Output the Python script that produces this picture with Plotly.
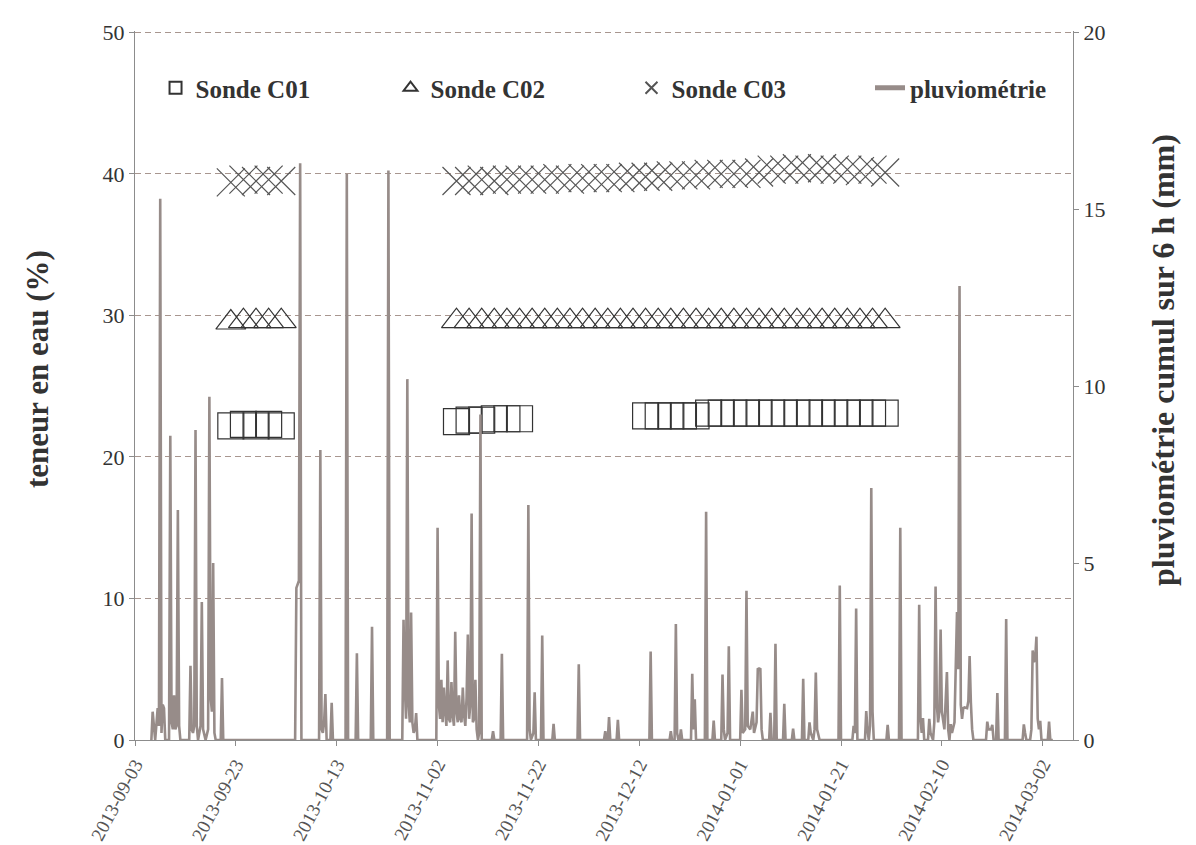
import pandas as pd
import plotly.graph_objects as go
from plotly.subplots import make_subplots

# ---------------- data ----------------
start = pd.Timestamp("2013-09-03")

# probe measurement times (days after 2013-09-03)
c01_day = [19.0, 21.5, 24.0, 26.5, 29.0,
           63.75, 66.25, 68.75, 71.25, 73.75, 76.25,
           101.25, 103.75, 106.25, 108.75, 111.25, 113.75, 116.25, 118.75, 121.25, 123.75,
           126.25, 128.75, 131.25, 133.75, 136.25, 138.75, 141.25, 143.75, 146.25, 148.75]
c01_val = [22.2, 22.3, 22.2, 22.3, 22.2,
           22.5, 22.6, 22.6, 22.7, 22.7, 22.7,
           22.9, 22.9, 22.9, 22.9, 22.9, 23.1, 23.1, 23.1, 23.1, 23.1,
           23.1, 23.1, 23.1, 23.1, 23.1, 23.1, 23.1, 23.1, 23.1, 23.1]

c02_day = [19.0, 21.5, 24.0, 26.5, 29.0,
           63.75, 66.25, 68.75, 71.25, 73.75, 76.25, 78.75, 81.25, 83.75, 86.25,
           88.75, 91.25, 93.75, 96.25, 98.75, 101.25, 103.75, 106.25, 108.75, 111.25,
           113.75, 116.25, 118.75, 121.25, 123.75, 126.25, 128.75, 131.25, 133.75, 136.25,
           138.75, 141.25, 143.75, 146.25, 148.75]
c02_val = [29.5, 29.6, 29.6, 29.6, 29.6,
           29.6, 29.6, 29.6, 29.6, 29.6, 29.6, 29.6, 29.6, 29.6, 29.6,
           29.6, 29.6, 29.6, 29.6, 29.6, 29.6, 29.6, 29.6, 29.6, 29.6,
           29.6, 29.6, 29.6, 29.6, 29.6, 29.6, 29.6, 29.6, 29.6, 29.6,
           29.6, 29.6, 29.6, 29.6, 29.6]

c03_day = c02_day
c03_val = [39.4, 39.6, 39.5, 39.6, 39.5,
           39.5, 39.5, 39.6, 39.5, 39.6, 39.6, 39.6, 39.6, 39.7, 39.6,
           39.7, 39.7, 39.7, 39.7, 39.8, 39.8, 39.8, 39.9, 39.9, 39.9,
           40.0, 40.0, 40.0, 40.0, 40.1, 40.3, 40.3, 40.4, 40.3, 40.4,
           40.3, 40.3, 40.2, 40.3, 40.1]

# 6-hourly rainfall (days after 2013-09-03, mm)
rain_day = [
    3.25, 3.5, 3.75, 4.0, 4.5, 4.75, 5.0, 5.25, 5.5, 5.75, 6.0,
    6.75, 7.0, 7.25, 7.5, 7.75, 8.0, 8.25, 8.5, 8.75, 9.0,
    10.75, 11.0, 11.25, 11.5, 11.75, 12.0, 12.25, 12.5, 13.0, 13.25, 13.5, 14.0, 14.5, 14.75, 15.0, 15.25, 15.5, 15.75, 16.0,
    17.0, 17.25, 17.5,
    31.75, 32.0, 32.5, 32.75, 33.0,
    36.5, 36.75, 37.0, 37.25, 37.5, 37.75, 38.0, 38.75, 39.0, 39.25,
    41.75, 42.0, 42.25,
    43.75, 44.0, 44.25,
    46.75, 47.0, 47.25,
    50.0, 50.25, 50.5,
    53.0, 53.25, 53.5, 53.75, 54.0, 54.25, 54.5, 54.75, 55.0, 55.25, 55.5, 55.75, 56.0,
    59.75, 60.0, 60.25, 60.5, 60.75, 61.0, 61.25, 61.5, 61.75, 62.0, 62.25, 62.5, 62.75, 63.0,
    63.25, 63.5, 63.75, 64.0, 64.25, 64.5, 64.75, 65.0, 65.25, 65.5, 65.75, 66.0, 66.25, 66.5,
    66.75, 67.0, 67.25, 67.5, 67.75, 68.0, 68.25, 68.5, 68.75,
    70.75, 71.0, 71.25,
    72.5, 72.75, 73.0,
    77.75, 78.0, 78.25, 78.5, 79.0, 79.25, 79.5, 80.5, 80.75, 81.0,
    82.75, 83.0, 83.25,
    87.75, 88.0, 88.25,
    93.0, 93.25, 93.5, 93.75, 94.0, 94.25, 95.5, 95.75, 96.0,
    102.0, 102.25, 102.5,
    106.0, 106.25, 106.5, 107.0, 107.25, 107.5, 107.75, 108.0, 108.25, 108.5,
    110.25, 110.5, 110.75, 111.0, 111.25,
    113.0, 113.25, 113.5,
    114.5, 114.75, 115.0,
    116.25, 116.5, 116.75, 117.0, 117.5, 117.75, 118.0,
    120.0, 120.25, 120.5, 121.0, 121.25, 121.5, 122.0, 122.5, 122.75, 123.25, 123.5, 123.75, 124.0, 124.25, 124.5,
    125.75, 126.0, 126.25, 126.75, 127.0, 127.25,
    128.5, 128.75, 129.0,
    130.25, 130.5, 130.75,
    132.25, 132.5, 132.75,
    133.5, 133.75, 134.0, 134.5, 134.75, 135.0, 135.25, 135.5, 135.75,
    139.5, 139.75, 140.0,
    142.25, 142.5, 142.75, 143.0, 143.25,
    144.75, 145.0, 145.25, 145.5, 145.75, 146.0, 146.25, 146.5,
    149.0, 149.25, 149.5,
    151.5, 151.75, 152.0,
    155.25, 155.5, 155.75, 156.0, 156.25, 156.5,
    157.25, 157.5, 157.75, 158.25, 158.5, 158.75, 159.0, 159.25, 159.5, 159.75, 160.0, 160.5,
    161.0, 161.25, 161.5, 161.75, 162.0, 162.5, 163.0, 163.25, 163.5, 163.75, 164.0, 164.25,
    164.5, 164.75, 165.0, 165.25, 165.5, 165.75, 166.0, 166.25,
    168.75, 169.0, 169.25, 169.5, 169.75, 170.0, 170.25, 170.75, 171.0, 171.25,
    172.5, 172.75, 173.0,
    176.0, 176.25, 176.5, 176.75,
    177.5, 177.75, 178.0, 178.25, 178.5, 178.75, 179.0, 179.25, 179.5, 179.75,
    181.0, 181.25, 181.5, 182.0,
]
rain_mm = [
    0, 0.8, 0.4, 0, 0.9, 0.4, 15.3, 0.2, 1.0, 0.9, 0,
    0, 8.6, 0.5, 0.3, 1.26, 0.3, 0.4, 6.5, 0.4, 0,
    0, 2.1, 0.3, 0.2, 0.4, 8.76, 0.4, 0, 0.4, 3.9, 0.3, 0, 0.3, 9.7, 1.2, 0.8, 5.0, 0.2, 0,
    0, 1.75, 0,
    0, 4.3, 4.5, 16.3, 0,
    0, 8.2, 0.3, 0.2, 0.5, 1.3, 0, 0, 1.05, 0,
    0, 16.0, 0,
    0, 2.45, 0,
    0, 3.2, 0,
    0, 16.1, 0,
    0, 3.4, 1.5, 0.6, 10.2, 1.0, 0.5, 3.6, 0.5, 0.2, 0.3, 0.76, 0,
    0, 6.0, 1.0, 0.6, 1.7, 0.5, 1.48, 0.8, 0.4, 2.25, 0.6, 0.5, 1.64, 0.7,
    0.4, 3.06, 0.8, 0.5, 1.26, 0.6, 0.5, 1.48, 0.7, 0.4, 1.2, 2.98, 0.6, 1.0,
    6.4, 0.5, 0.6, 1.7, 0.3, 0, 0.2, 9.2, 0,
    0, 0.25, 0,
    0, 2.44, 0,
    0, 6.64, 0.3, 0, 0.2, 1.35, 0, 0, 2.95, 0,
    0, 0.46, 0,
    0, 2.14, 0,
    0, 0.25, 0, 0, 0.65, 0, 0, 0.57, 0,
    0, 2.5, 0,
    0, 0.25, 0, 0, 3.28, 0.2, 0, 0, 0.3, 0,
    0, 1.87, 0.3, 1.15, 0,
    0, 6.45, 0,
    0, 0.55, 0,
    0, 1.85, 0.3, 0, 0.2, 2.65, 0,
    0, 1.42, 0.2, 0.3, 4.22, 0.4, 0.3, 0.8, 0.2, 0.5, 2.03, 2.0, 2.03, 0.3, 0,
    0, 0.77, 0, 0, 2.72, 0,
    0, 1.02, 0,
    0, 0.32, 0,
    0, 1.73, 0,
    0, 0.5, 0.2, 0, 0.3, 1.91, 0.3, 0.1, 0,
    0, 4.37, 0,
    0, 0.4, 0.2, 3.72, 0,
    0, 0.82, 0.3, 0, 0.4, 7.12, 0.8, 0,
    0, 0.43, 0,
    0, 6.0, 0,
    0, 3.82, 0.6, 0.2, 0.62, 0,
    0, 0.6, 0.2, 0, 0.5, 4.34, 1.0, 0.5, 0.8, 3.12, 0.8, 0.3,
    1.92, 0.3, 0, 0.45, 0.2, 0.5, 3.62, 2.0, 12.83, 1.0, 0.6, 0.9,
    0.92, 0.9, 0.9, 1.1, 2.37, 1.05, 0.3, 0,
    0, 0.52, 0.3, 0.3, 0.3, 0.43, 0, 0, 1.33, 0,
    0, 3.42, 0,
    0, 0.44, 0.2, 0,
    0, 0.3, 2.53, 2.2, 2.3, 2.92, 0.6, 0.3, 0.54, 0,
    0, 0.52, 0, 0,
]

x_range_days = 186
tick_step_days = 20

left_title = "teneur en eau (%)"
right_title = "pluviométrie cumul sur 6 h (mm)"


def to_time(days):
    return [start + pd.Timedelta(days=d) for d in days]


SERIF = "Liberation Serif"
GRID = "#a8968f"
AXIS = "#8c8c8c"
RAIN = "#978c89"

fig = make_subplots(specs=[[{"secondary_y": True}]])

fig.add_trace(go.Scatter(
    x=to_time(c01_day), y=c01_val, name="Sonde C01", mode="markers", legend="legend",
    marker=dict(symbol="square-open", size=26, color="#333333", line=dict(width=1.2)),
), secondary_y=False)
fig.add_trace(go.Scatter(
    x=to_time(c02_day), y=c02_val, name="Sonde C02", mode="markers", legend="legend2",
    marker=dict(symbol="triangle-up-open", size=26, color="#333333", line=dict(width=1.2)),
), secondary_y=False)
fig.add_trace(go.Scatter(
    x=to_time(c03_day), y=c03_val, name="Sonde C03", mode="markers", legend="legend3",
    marker=dict(symbol="x-thin-open", size=28, color="#555555", line=dict(width=1.2)),
), secondary_y=False)
fig.add_trace(go.Scatter(
    x=to_time(rain_day), y=rain_mm, name="pluviométrie", mode="lines", legend="legend4",
    line=dict(color=RAIN, width=2.6),
), secondary_y=True)


def legend_at(x):
    return dict(
        orientation="h", x=x, y=0.9196, xanchor="left", yanchor="middle",
        itemsizing="constant",
        font=dict(family=SERIF, size=25, color="#333333", weight="bold"),
        bgcolor="rgba(0,0,0,0)", borderwidth=0,
    )


title_font = dict(family=SERIF, size=31, color="#333333", weight="bold")

fig.update_layout(
    template="none",
    width=1188, height=837,
    margin=dict(l=127, r=123, t=23, b=105),
    paper_bgcolor="white", plot_bgcolor="white",
    font=dict(family=SERIF, color="#3a3a3a"),
    showlegend=True,
    legend=legend_at(0.0219),
    legend2=legend_at(0.2724),
    legend3=legend_at(0.5293),
    legend4=legend_at(0.7836),
    annotations=[
        dict(text=left_title, textangle=-90, xref="paper", yref="paper",
             x=-0.1034, y=0.5233, xanchor="center", yanchor="middle",
             showarrow=False, font=title_font),
        dict(text=right_title, textangle=-90, xref="paper", yref="paper",
             x=1.0959, y=0.536, xanchor="center", yanchor="middle",
             showarrow=False, font=dict(title_font, size=32)),
    ],
)

fig.update_xaxes(
    domain=[0, 1],
    type="date",
    range=[start, start + pd.Timedelta(days=x_range_days)],
    tick0=start, dtick=tick_step_days * 86400000,
    tickformat="%Y-%m-%d", tickangle=-62,
    tickfont=dict(family=SERIF, size=19, color="#555555"),
    showgrid=False, zeroline=False,
    showline=True, linecolor=AXIS, linewidth=1.2,
    ticks="outside", ticklen=5, tickcolor=AXIS,
    automargin=False,
)
fig.update_yaxes(
    range=[0, 50.1], dtick=10, tick0=0,
    showgrid=True, gridcolor=GRID, gridwidth=1, griddash="6px,4px",
    zeroline=False, showline=True, linecolor=AXIS, linewidth=1.2,
    ticks="outside", ticklen=5, tickcolor=AXIS,
    tickfont=dict(family=SERIF, size=22, color="#333333"),
    automargin=False,
    secondary_y=False,
)
fig.update_yaxes(
    range=[0, 20.04], dtick=5, tick0=0,
    showgrid=False, zeroline=False, showline=True, linecolor=AXIS, linewidth=1.2,
    ticks="outside", ticklen=5, tickcolor=AXIS,
    tickfont=dict(family=SERIF, size=22, color="#333333"),
    automargin=False,
    secondary_y=True,
)

fig.write_html("out.html")
